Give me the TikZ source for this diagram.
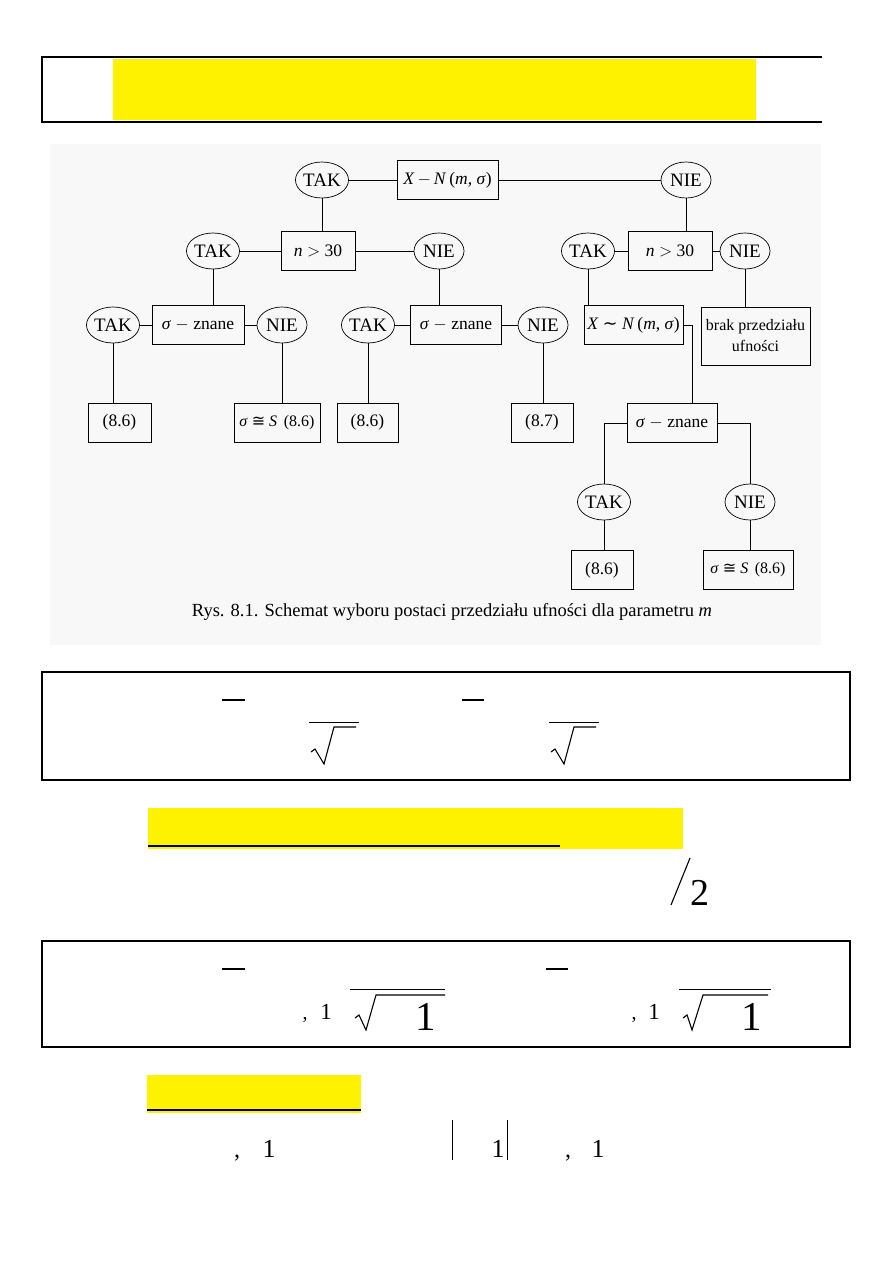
\documentclass[tikz,border=0pt]{standalone}
\usepackage{fontspec}
\setmainfont{Liberation Serif}
\newfontfamily\symfont{DejaVu Sans}
\usetikzlibrary{shapes.geometric}
\definecolor{scanbg}{RGB}{248,248,248}

\begin{document}
\begin{tikzpicture}[x=1pt, y=-1pt,
  every node/.style={font=\fontsize{17.5}{20}\selectfont},
  dec/.style={draw, ellipse, line width=0.7pt, inner sep=0pt, minimum width=50pt, minimum height=36pt, font=\fontsize{19}{21}\selectfont},
  box/.style={draw, rectangle, line width=0.7pt, inner sep=1pt, minimum height=39pt, align=center},
  link/.style={line width=0.7pt},
  frame/.style={line width=1.3pt},
  eqtext/.style={anchor=base, inner sep=0pt}]
  \useasboundingbox (0,0) rectangle (893,1263);

  % header
  \fill[yellow] (113,59) rectangle (756,120);
  \draw[frame] (822,57) -- (42,57) -- (42,122) -- (822,122);

  % scanned scheme
  \fill[scanbg] (50,144) rectangle (821,645);
  \node[dec] (tak1) at (322,180) {TAK};
  \node[box, minimum width=101pt] (xn) at (447.5,180) {\textit{X}\,$-$\,\textit{N}\,(\textit{m}, \textit{σ})};
  \node[dec] (nie1) at (686,180) {NIE};

  \node[dec] (tak2) at (213,251) {TAK};
  \node[box, minimum width=74pt] (nx1) at (318,251) {\textit{n} $>$ 30};
  \node[dec] (nie2) at (439,251) {NIE};
  \node[dec] (tak5) at (588,251) {TAK};
  \node[box, minimum width=84pt] (nx2) at (670,251) {\textit{n} $>$ 30};
  \node[dec] (nie5) at (745,251) {NIE};

  \node[dec] (tak3) at (113,325) {TAK};
  \node[box, minimum width=92pt] (sz1) at (198,325) {\textit{σ} $-$ znane};
  \node[dec] (nie3) at (282,325) {NIE};
  \node[dec] (tak4) at (368,325) {TAK};
  \node[box, minimum width=91pt] (sz2) at (456,325) {\textit{σ} $-$ znane};
  \node[dec] (nie4) at (543,325) {NIE};
  \node[box, minimum width=99pt] (xn2) at (633.5,325) {\textit{X} {\symfont ∼} \textit{N}\,(\textit{m}, \textit{σ})};
  \node[box, minimum width=109pt, minimum height=58pt, font=\fontsize{16}{21}\selectfont] (brak) at (755.5,336) {brak przedziału\\ufności};

  \node[box, minimum width=63pt] (b1) at (119.5,422.5) {(8.6)};
  \node[box, minimum width=86pt, font=\fontsize{16}{19}\selectfont] (b2) at (277,422.5) {\textit{σ} {\symfont ≅} \textit{S}\, (8.6)};
  \node[box, minimum width=61pt] (b3) at (367.5,422.5) {(8.6)};
  \node[box, minimum width=62pt] (b4) at (542,422.5) {(8.7)};
  \node[box, minimum width=90pt] (sz3) at (672,423) {\textit{σ} $-$ znane};
  \node[dec] (tak6) at (604,502) {TAK};
  \node[dec] (nie6) at (750,502) {NIE};
  \node[box, minimum width=62pt] (b5) at (602,570) {(8.6)};
  \node[box, minimum width=90pt, font=\fontsize{16}{19}\selectfont] (b6) at (748,570) {\textit{σ} {\symfont ≅} \textit{S}\, (8.6)};

  \node[font=\fontsize{18.5}{22}\selectfont] (cap) at (452,612) {Rys. 8.1. Schemat wyboru postaci przedziału ufności dla parametru \textit{m}};

  \draw[link] (tak1) -- (xn) -- (nie1);
  \draw[link] (tak1) -- (tak1 |- nx1.north);
  \draw[link] (nie1) -- (nie1 |- nx2.north);
  \draw[link] (tak2) -- (nx1) -- (nie2);
  \draw[link] (tak5) -- (nx2) -- (nie5);
  \draw[link] (tak2) -- (tak2 |- sz1.north);
  \draw[link] (nie2) -- (nie2 |- sz2.north);
  \draw[link] (tak5) -- (tak5 |- xn2.north);
  \draw[link] (nie5) -- (nie5 |- brak.north);
  \draw[link] (tak3) -- (sz1) -- (nie3);
  \draw[link] (tak4) -- (sz2) -- (nie4);
  \draw[link] (tak3) -- (tak3 |- b1.north);
  \draw[link] (nie3) -- (nie3 |- b2.north);
  \draw[link] (tak4) -- (tak4 |- b3.north);
  \draw[link] (nie4) -- (nie4 |- b4.north);
  \draw[link] (xn2.east) -| ([xshift=20pt]sz3.north);
  \draw[link] (sz3.west) -| (tak6);
  \draw[link] (sz3.east) -| (nie6);
  \draw[link] (tak6) -- (tak6 |- b5.north);
  \draw[link] (nie6) -- (nie6 |- b6.north);

  % first formula box
  \draw[frame] (42,672) rectangle (850,780);
  \draw[line width=2pt] (222,700) -- (245,700) (462,700) -- (484,700);
  \draw[line width=0.8pt] (309,722) -- (359,722) (549,722) -- (599,722);
  \draw[line width=1.1pt] (311,752) -- (315,749) -- (324,764) -- (334,727) -- (356,727);
  \draw[line width=1.1pt] (551,752) -- (555,749) -- (564,764) -- (574,727) -- (596,727);

  % second heading
  \fill[yellow] (148,808) rectangle (683,849);
  \draw[line width=2pt] (148,845.5) -- (560,845.5);
  \draw[line width=1.1pt] (671,905) -- (690,858);
  \node[eqtext, font=\fontsize{38}{40}\selectfont] (two) at (700,905) {2};

  % second formula box
  \draw[frame] (42,941) rectangle (850,1047);
  \draw[line width=2pt] (222,969) -- (245,969) (546,969) -- (568,969);
  \node[eqtext, font=\fontsize{20}{22}\selectfont] (ca) at (305,1019) {,};
  \node[eqtext, font=\fontsize{23}{25}\selectfont] (oa) at (326,1019) {1};
  \draw[line width=0.8pt] (350,989) -- (445,989) (679,989) -- (771,989);
  \draw[line width=1.1pt] (355,1018) -- (359,1015) -- (366,1030) -- (376,995) -- (445,995);
  \node[eqtext, font=\fontsize{41}{43}\selectfont] (oA) at (426,1030) {1};
  \node[eqtext, font=\fontsize{20}{22}\selectfont] (cb) at (634,1019) {,};
  \node[eqtext, font=\fontsize{23}{25}\selectfont] (ob) at (654,1019) {1};
  \draw[line width=1.1pt] (683,1018) -- (687,1015) -- (692,1030) -- (703,995) -- (768,995);
  \node[eqtext, font=\fontsize{41}{43}\selectfont] (oB) at (752,1030) {1};

  % third heading
  \fill[yellow] (147,1075) rectangle (361,1113);
  \draw[line width=2pt] (147,1110) -- (361,1110);
  \node[eqtext, font=\fontsize{24}{26}\selectfont] (cc) at (237,1157) {,};
  \node[eqtext, font=\fontsize{26}{28}\selectfont] (oc) at (269,1157) {1};
  \draw[line width=0.8pt] (452,1120) -- (452,1160) (507,1120) -- (507,1160);
  \node[eqtext, font=\fontsize{26}{28}\selectfont] (od) at (498,1157) {1};
  \node[eqtext, font=\fontsize{24}{26}\selectfont] (cd) at (568,1157) {,};
  \node[eqtext, font=\fontsize{26}{28}\selectfont] (oe) at (598,1157) {1};
\end{tikzpicture}
\end{document}
